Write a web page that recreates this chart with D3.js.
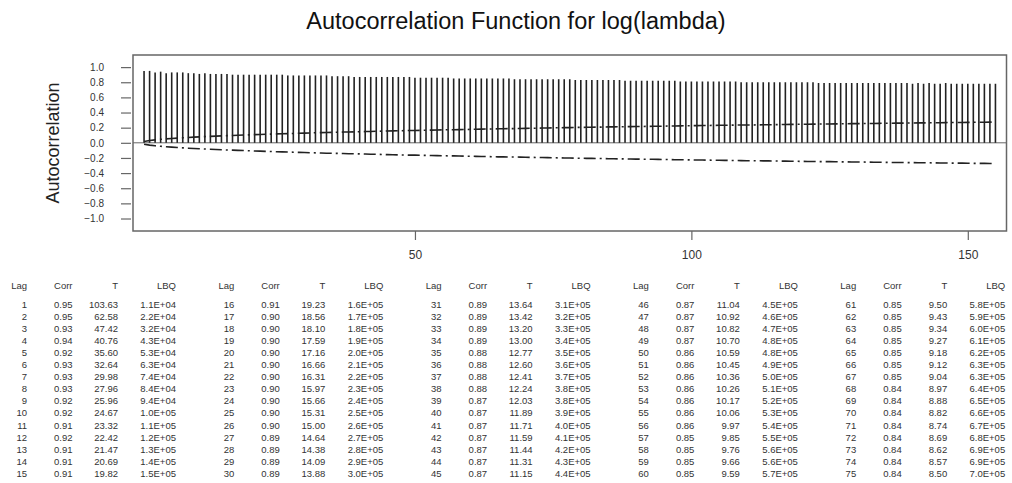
<!DOCTYPE html>
<html>
<head>
<meta charset="utf-8">
<script src="https://cdn.jsdelivr.net/npm/d3@7"></script>
<style>
  html, body { margin: 0; padding: 0; background: #fff; }
  svg { display: block; font-family: Arial, "Liberation Sans", sans-serif; }
</style>
</head>
<body>
<svg id="chart" width="1012" height="483"></svg>
<script>
// Sample autocorrelations, lags 1..155 (lags 1..75 as listed in the table)
const corr = [
  0.95, 0.95, 0.93, 0.94, 0.92, 0.93, 0.93, 0.93, 0.92, 0.92, 0.91, 0.92, 0.91, 0.91, 0.91,
  0.91, 0.90, 0.90, 0.90, 0.90, 0.90, 0.90, 0.90, 0.90, 0.90, 0.90, 0.89, 0.89, 0.89, 0.89,
  0.89, 0.89, 0.89, 0.89, 0.88, 0.88, 0.88, 0.88, 0.87, 0.87, 0.87, 0.87, 0.87, 0.87, 0.87,
  0.87, 0.87, 0.87, 0.87, 0.86, 0.86, 0.86, 0.86, 0.86, 0.86, 0.86, 0.85, 0.85, 0.85, 0.85,
  0.85, 0.85, 0.85, 0.85, 0.85, 0.85, 0.85, 0.84, 0.84, 0.84, 0.84, 0.84, 0.84, 0.84, 0.84,
  0.84, 0.84, 0.84, 0.83, 0.83, 0.83, 0.83, 0.83, 0.83, 0.83, 0.83, 0.83, 0.82, 0.82, 0.82,
  0.82, 0.82, 0.82, 0.82, 0.82, 0.82, 0.82, 0.81, 0.81, 0.81, 0.81, 0.81, 0.81, 0.81, 0.81,
  0.81, 0.81, 0.81, 0.80, 0.80, 0.80, 0.80, 0.80, 0.80, 0.80, 0.80, 0.80, 0.80, 0.80, 0.80,
  0.80, 0.80, 0.79, 0.79, 0.79, 0.79, 0.79, 0.79, 0.79, 0.79, 0.79, 0.79, 0.79, 0.79, 0.79,
  0.79, 0.79, 0.79, 0.79, 0.78, 0.79, 0.78, 0.79, 0.78, 0.78, 0.79, 0.78, 0.78, 0.78, 0.78,
  0.78, 0.78, 0.78, 0.78, 0.78
];

// t statistics, lags 1..75
const tStat = [
  103.63, 62.58, 47.42, 40.76, 35.60, 32.64, 29.98, 27.96, 25.96, 24.67, 23.32, 22.42, 21.47, 20.69, 19.82,
  19.23, 18.56, 18.10, 17.59, 17.16, 16.66, 16.31, 15.97, 15.66, 15.31, 15.00, 14.64, 14.38, 14.09, 13.88,
  13.64, 13.42, 13.20, 13.00, 12.77, 12.60, 12.41, 12.24, 12.03, 11.89, 11.71, 11.59, 11.44, 11.31, 11.15,
  11.04, 10.92, 10.82, 10.70, 10.59, 10.45, 10.36, 10.26, 10.17, 10.06, 9.97, 9.85, 9.76, 9.66, 9.59,
  9.50, 9.43, 9.34, 9.27, 9.18, 9.12, 9.04, 8.97, 8.88, 8.82, 8.74, 8.69, 8.62, 8.57, 8.50
];

// Ljung-Box Q, lags 1..75
const lbq = [
  "1.1E+04", "2.2E+04", "3.2E+04", "4.3E+04", "5.3E+04", "6.3E+04", "7.4E+04", "8.4E+04", "9.4E+04", "1.0E+05",
  "1.1E+05", "1.2E+05", "1.3E+05", "1.4E+05", "1.5E+05", "1.6E+05", "1.7E+05", "1.8E+05", "1.9E+05", "2.0E+05",
  "2.1E+05", "2.2E+05", "2.3E+05", "2.4E+05", "2.5E+05", "2.6E+05", "2.7E+05", "2.8E+05", "2.9E+05", "3.0E+05",
  "3.1E+05", "3.2E+05", "3.3E+05", "3.4E+05", "3.5E+05", "3.6E+05", "3.7E+05", "3.8E+05", "3.8E+05", "3.9E+05",
  "4.0E+05", "4.1E+05", "4.2E+05", "4.3E+05", "4.4E+05", "4.5E+05", "4.6E+05", "4.7E+05", "4.8E+05", "4.8E+05",
  "4.9E+05", "5.0E+05", "5.1E+05", "5.2E+05", "5.3E+05", "5.4E+05", "5.5E+05", "5.6E+05", "5.6E+05", "5.7E+05",
  "5.8E+05", "5.9E+05", "6.0E+05", "6.1E+05", "6.2E+05", "6.3E+05", "6.3E+05", "6.4E+05", "6.5E+05", "6.6E+05",
  "6.7E+05", "6.8E+05", "6.9E+05", "6.9E+05", "7.0E+05"
];

// 2·SE significance limits for lags 76..155 (beyond the tabulated t values)
const limitTail = [
  0.199, 0.200, 0.201, 0.203, 0.204, 0.205, 0.206, 0.207, 0.208, 0.210,
  0.211, 0.212, 0.213, 0.214, 0.215, 0.216, 0.217, 0.218, 0.219, 0.220,
  0.222, 0.223, 0.224, 0.225, 0.226, 0.227, 0.228, 0.229, 0.230, 0.231,
  0.232, 0.233, 0.234, 0.235, 0.236, 0.236, 0.237, 0.238, 0.239, 0.240,
  0.241, 0.242, 0.243, 0.244, 0.245, 0.246, 0.247, 0.248, 0.248, 0.249,
  0.250, 0.251, 0.252, 0.253, 0.254, 0.254, 0.255, 0.256, 0.257, 0.258,
  0.259, 0.260, 0.260, 0.261, 0.262, 0.263, 0.264, 0.264, 0.265, 0.266,
  0.267, 0.268, 0.268, 0.269, 0.270, 0.271, 0.272, 0.272, 0.273, 0.274
];

const yTicks = [1.0, 0.8, 0.6, 0.4, 0.2, 0.0, -0.2, -0.4, -0.6, -0.8, -1.0];
const xTicks = [50, 100, 150];
const tableHeaders = ["Lag", "Corr", "T", "LBQ"];

const titleText = "Autocorrelation Function for log(lambda)";
const yLabel = "Autocorrelation";

// ---- layout ----
const svg = d3.select("#chart");
const frame = { left: 133, right: 1006.5, top: 55, bottom: 231 };

const x = d3.scaleLinear().domain([-1, 157]).range([frame.left, frame.right]);
const y = d3.scaleLinear().domain([-1.165, 1.16]).range([frame.bottom, frame.top]);

const ink = "#222";
const gridGray = "#666";

// title
svg.append("text")
  .attr("x", 516).attr("y", 29)
  .attr("text-anchor", "middle")
  .attr("font-size", 23.5)
  .attr("fill", "#111")
  .text(titleText);

// y label
svg.append("text")
  .attr("transform", "translate(59,143) rotate(-90)")
  .attr("text-anchor", "middle")
  .attr("font-size", 18)
  .attr("fill", "#222")
  .text(yLabel);

// data rows
const lags = d3.range(1, corr.length + 1);
const rows = lags.map((lag, i) => {
  const limit = i < tStat.length ? 2 * corr[i] / tStat[i] : limitTail[i - tStat.length];
  return { lag, r: corr[i], limit };
});

// y axis
const yAxis = d3.axisLeft(y)
  .tickValues(yTicks)
  .tickFormat(d3.format(".1f"))
  .tickSize(10)
  .tickPadding(17)
  .tickSizeOuter(0);
const gy = svg.append("g")
  .attr("transform", `translate(${frame.left - 2},0)`)
  .call(yAxis);
gy.select(".domain").remove();
gy.selectAll(".tick line").attr("stroke", gridGray).attr("stroke-width", 1.2);
gy.selectAll(".tick text")
  .attr("font-size", 10)
  .attr("font-family", "Arial, 'Liberation Sans', sans-serif")
  .attr("fill", "#333");

// x axis
const xAxis = d3.axisBottom(x)
  .tickValues(xTicks)
  .tickSize(9)
  .tickPadding(10)
  .tickSizeOuter(0);
const gx = svg.append("g")
  .attr("transform", `translate(0,${frame.bottom})`)
  .call(xAxis);
gx.select(".domain").remove();
gx.selectAll(".tick line").attr("stroke", gridGray).attr("stroke-width", 1.2);
gx.selectAll(".tick text")
  .attr("font-size", 12)
  .attr("font-family", "Arial, 'Liberation Sans', sans-serif")
  .attr("fill", "#333");

// plot frame
svg.append("rect")
  .attr("x", frame.left).attr("y", frame.top)
  .attr("width", frame.right - frame.left)
  .attr("height", frame.bottom - frame.top)
  .attr("fill", "none")
  .attr("stroke", gridGray)
  .attr("stroke-width", 1.5);

// zero reference line
svg.append("line")
  .attr("x1", frame.left).attr("x2", frame.right)
  .attr("y1", y(0)).attr("y2", y(0))
  .attr("stroke", gridGray)
  .attr("stroke-width", 1);

// autocorrelation spikes
svg.append("g").selectAll("line")
  .data(rows)
  .join("line")
  .attr("x1", d => x(d.lag)).attr("x2", d => x(d.lag))
  .attr("y1", y(0)).attr("y2", d => y(d.r))
  .attr("stroke", ink)
  .attr("stroke-width", 1.6);

// significance limits
const limitLine = sign => d3.line()
  .x(d => x(d.lag))
  .y(d => y(sign * d.limit));
[1, -1].forEach(sign => {
  svg.append("path")
    .datum(rows)
    .attr("d", limitLine(sign))
    .attr("fill", "none")
    .attr("stroke", ink)
    .attr("stroke-width", 1.6)
    .attr("stroke-dasharray", "12,4,2,4");
});

// statistics table: five blocks of fifteen lags
const blockWidth = 207.3;
const colRight = [27, 72.5, 118, 176];
const headerY = 288.5;
const rowY0 = 307.5;
const rowStep = 12.1;
const table = svg.append("g")
  .attr("font-size", 9.5)
  .attr("fill", "#333")
  .attr("text-anchor", "end");

for (let b = 0; b < 5; b++) {
  const bx = b * blockWidth;
  tableHeaders.forEach((h, c) => {
    table.append("text")
      .attr("x", bx + colRight[c]).attr("y", headerY)
      .text(h);
  });
  for (let r = 0; r < 15; r++) {
    const i = b * 15 + r;
    const cells = [String(lags[i]), corr[i].toFixed(2), tStat[i].toFixed(2), lbq[i]];
    cells.forEach((v, c) => {
      table.append("text")
        .attr("x", bx + colRight[c]).attr("y", rowY0 + r * rowStep)
        .text(v);
    });
  }
}
</script>
</body>
</html>
